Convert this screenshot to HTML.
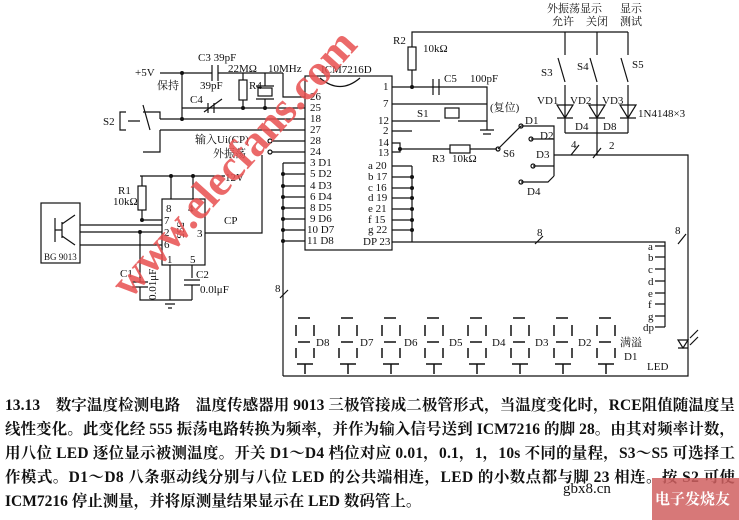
<!DOCTYPE html>
<html><head><meta charset="utf-8"><style>
html,body{margin:0;padding:0;background:#fff;}
svg{display:block;}
text{font-family:"Liberation Serif","Noto Serif CJK SC",serif;fill:#111;}
.s{font-size:11px;}
.p{font-size:15.5px;font-weight:bold;}
</style></head><body>
<svg width="739" height="520" viewBox="0 0 739 520" xmlns="http://www.w3.org/2000/svg">
<g stroke="#111" stroke-width="1.2" fill="none">
<rect x="305" y="76" width="87" height="174"/>
<path d="M320,78 Q340,95 360,78"/>
<path d="M283,73 V97 H305 M182,108 H305 M160,119 H305 M160,130 H305 M272,141 H305 M272,152 H305"/>
<path d="M283,163 V376 M283,163 H305 M283,174 H305 M283,186 H305 M283,197 H305 M283,208 H305 M283,219 H305 M283,230 H305 M283,241 H305"/>
<path d="M160,73 H212 M218,73 H283 M212,65 V81 M218,65 V81 M182,73 V119 M243,73 V80 M243,100 V108 M265,73 V86 M265,99 V108"/>
<rect x="239" y="80" width="8" height="20"/>
<rect x="258" y="88" width="14" height="8"/>
<path d="M256,86 H274 M256,99 H274"/>
<path d="M208,103 V113 M214,103 V113 M204,112 L222,99"/>
<path d="M126,112 H120 V130 H126 M128,121 H140 M143,105 L150,130 M160,119 V112 H143 M160,130 V152 H143"/>
<circle cx="270" cy="141" r="2"/><circle cx="270" cy="152" r="2"/>
<path d="M262,155 V233 H205"/>
<rect x="162" y="199" width="43" height="66"/>
<path d="M140,176 H225 M171,176 V199 M193,176 V199 M142,176 V186 M142,210 V220 H162 M80,225 H162 M80,232 H162 M80,245 H162 M140,232 V282 M170,265 V300 M192,265 V278"/>
<rect x="138" y="186" width="8" height="24"/>
<rect x="41" y="203" width="39" height="60"/>
<path d="M55,218 V242 M55,230 H62 M62,222 V238 M62,224 L75,215 M62,236 L75,245"/>
<path d="M132,282 H148 M132,287 H148 M140,287 V300 H192 M184,280 H200 M184,285 H200 M192,285 V300 M162,300 H178 M165,304 H175 M168,308 H172"/>
<path d="M392,87 H487 V130 M392,104 H487 M392,121 H440 M458,121 H487 M392,131 H412 M392,143 H400 V152 H392 M400,149 H450 M470,149 H497"/>
<path d="M433,79 V95 M439,79 V95 M480,130 H494 M483,134 H491"/>
<rect x="445" y="108" width="14" height="10"/>
<rect x="450" y="145" width="20" height="8"/>
<path d="M412,166 V242 M392,166 H412 M392,177 H412 M392,188 H412 M392,198 H412 M392,209 H412 M392,220 H412 M392,230 H412 M392,242 H665 V327"/>
<path d="M498,149 L521,126 M521,126 H554 V176 M531,139 H554 M533,166 H554 M521,182 H548 L554,176 M554,155 H688 V376 H283"/>
<circle cx="521" cy="126" r="2"/><circle cx="531" cy="139" r="2"/><circle cx="533" cy="166" r="2"/><circle cx="521" cy="182" r="2"/><circle cx="498" cy="149" r="2"/>
<path d="M412,87 V70 M412,47 V32 H628 M565,32 V55 M565,85 V133 M597,32 V55 M597,85 V155 M628,32 V55 M628,85 V133 M558,58 L565,82 M590,58 L597,82 M621,58 L628,82 M565,133 H628"/>
<rect x="408" y="47" width="8" height="23"/>
<path d="M557,105 H573 L565,118 Z M589,105 H605 L597,118 Z M620,105 H636 L628,118 Z M557,118 H573 M589,118 H605 M620,118 H636"/>
<path d="M571,155 L579,145 M593,158 L601,148 M535,244 L543,236 M678,244 L686,234 M280,298 L288,290"/>
<path d="M665,246 H655 M665,257 H655 M665,269 H655 M665,281 H655 M665,293 H655 M665,304 H655 M665,316 H655 M665,327 H655"/>
<path d="M678,340 H688 L683,348 Z M678,348 H688 M690,338 L698,330 M690,345 L698,337"/>
</g>
<g fill="#111">
<circle cx="182" cy="73" r="2"/><circle cx="182" cy="119" r="2"/><circle cx="243" cy="108" r="2"/><circle cx="265" cy="108" r="2"/>
<circle cx="171" cy="176" r="2"/><circle cx="193" cy="176" r="2"/><circle cx="142" cy="220" r="2"/><circle cx="140" cy="232" r="2"/>
<circle cx="412" cy="87" r="2"/><circle cx="400" cy="149" r="2"/>
<circle cx="412" cy="177" r="2"/><circle cx="412" cy="188" r="2"/><circle cx="412" cy="198" r="2"/><circle cx="412" cy="209" r="2"/><circle cx="412" cy="220" r="2"/><circle cx="412" cy="230" r="2"/>
<circle cx="283" cy="174" r="2"/><circle cx="283" cy="186" r="2"/><circle cx="283" cy="197" r="2"/><circle cx="283" cy="208" r="2"/><circle cx="283" cy="219" r="2"/><circle cx="283" cy="230" r="2"/><circle cx="283" cy="241" r="2"/>
</g>
<g stroke="#111" stroke-width="1.5" fill="none">
<path id="dg" d="M298,318 H310 M296,325 V336 M314,325 V336 M298,342 H310 M296,348 V358 M314,348 V358 M297,364 H313 M305,364 V374"/>
<use href="#dg" x="43"/><use href="#dg" x="86"/><use href="#dg" x="129"/><use href="#dg" x="172"/><use href="#dg" x="215"/><use href="#dg" x="258"/><use href="#dg" x="301"/>
</g>
<g class="s">
<text x="316" y="346">D8</text><text x="360" y="346">D7</text><text x="404" y="346">D6</text><text x="449" y="346">D5</text><text x="492" y="346">D4</text><text x="535" y="346">D3</text><text x="578" y="346">D2</text><text x="620" y="346">满溢</text><text x="624" y="360">D1</text><text x="647" y="370">LED</text>
<text x="648" y="250">a</text><text x="648" y="261">b</text><text x="648" y="273">c</text><text x="648" y="285">d</text><text x="648" y="297">e</text><text x="648" y="308">f</text><text x="648" y="320">g</text><text x="643" y="331">dp</text>
<text x="135" y="76">+5V</text><text x="157" y="89">保持</text><text x="198" y="61">C3 39pF</text><text x="228" y="72">22MΩ</text><text x="200" y="89">39pF</text><text x="249" y="89">R4</text><text x="190" y="103">C4</text>
<text x="268" y="72">10MHz</text><text x="321" y="73">ICM7216D</text><text x="103" y="125">S2</text>
<text x="195" y="143">输入Ui(CP)</text><text x="213" y="157">外振荡</text><text x="225" y="181">12V</text><text x="224" y="224">CP</text>
<text x="118" y="194">R1</text><text x="113" y="205">10kΩ</text><text x="44" y="260" font-size="9">BG 9013</text><text x="120" y="277">C1</text><text x="196" y="278">C2</text><text x="200" y="293">0.0lμF</text>
<text x="166" y="212">8</text><text x="188" y="212">4</text><text x="164" y="224">7</text><text x="164" y="236">2</text><text x="164" y="248">6</text><text x="197" y="237">3</text><text x="167" y="263">1</text><text x="190" y="263">5</text>
<text x="310" y="100">26</text><text x="310" y="111">25</text><text x="310" y="122">18</text><text x="310" y="133">27</text><text x="310" y="144">28</text><text x="310" y="155">24</text>
<text x="310" y="166">3 D1</text><text x="310" y="177">5 D2</text><text x="310" y="189">4 D3</text><text x="310" y="200">6 D4</text><text x="310" y="211">8 D5</text><text x="310" y="222">9 D6</text><text x="307" y="233">10 D7</text><text x="307" y="244">11 D8</text>
<text x="383" y="90">1</text><text x="383" y="107">7</text><text x="378" y="124">12</text><text x="383" y="134">2</text><text x="378" y="146">14</text><text x="378" y="156">13</text>
<text x="368" y="169">a 20</text><text x="368" y="180">b 17</text><text x="368" y="191">c 16</text><text x="368" y="201">d 19</text><text x="368" y="212">e 21</text><text x="368" y="223">f 15</text><text x="368" y="233">g 22</text><text x="363" y="245">DP 23</text>
<text x="393" y="44">R2</text><text x="423" y="52">10kΩ</text><text x="444" y="82">C5</text><text x="470" y="82">100pF</text><text x="490" y="111">(复位)</text><text x="417" y="117">S1</text>
<text x="432" y="162">R3</text><text x="452" y="162">10kΩ</text><text x="503" y="157">S6</text><text x="525" y="124">D1</text><text x="540" y="139">D2</text><text x="536" y="158">D3</text><text x="527" y="195">D4</text>
<text x="547" y="12">外振荡显示</text><text x="620" y="12">显示</text><text x="552" y="25">允许</text><text x="586" y="25">关闭</text><text x="620" y="25">测试</text>
<text x="541" y="76">S3</text><text x="577" y="70">S4</text><text x="632" y="68">S5</text>
<text x="537" y="104">VD1</text><text x="570" y="104">VD2</text><text x="602" y="104">VD3</text><text x="638" y="117">1N4148×3</text>
<text x="575" y="130">D4</text><text x="603" y="130">D8</text><text x="571" y="148">4</text><text x="609" y="149">2</text><text x="537" y="236">8</text><text x="675" y="234">8</text><text x="275" y="292">8</text>
</g>
<text class="s" transform="translate(177,222) rotate(90)">555</text>
<text class="s" transform="translate(156,300) rotate(-90)">0.01μF</text>
<text x="0" y="0" font-family="Liberation Sans,sans-serif" font-size="44" font-weight="bold" style="fill:#e85050;opacity:0.85" transform="translate(130,300) rotate(-48)">www.elecfans.com</text>
<g class="p">
<text x="5" y="410" textLength="730">13.13　数字温度检测电路　温度传感器用 9013 三极管接成二极管形式，当温度变化时，RCE阻值随温度呈</text>
<text x="5" y="434" textLength="730">线性变化。此变化经 555 振荡电路转换为频率，并作为输入信号送到 ICM7216 的脚 28。由其对频率计数，</text>
<text x="5" y="458" textLength="730">用八位 LED 逐位显示被测温度。开关 D1～D4 档位对应 0.01，0.1，1，10s 不同的量程，S3～S5 可选择工</text>
<text x="5" y="482" textLength="730">作模式。D1～D8 八条驱动线分别与八位 LED 的公共端相连，LED 的小数点都与脚 23 相连。按 S2 可使</text>
<text x="5" y="506">ICM7216 停止测量，并将原测量结果显示在 LED 数码管上。</text>
</g>
<text x="563" y="493" font-family="Liberation Sans,sans-serif" font-size="15">gbx8.cn</text>
<rect x="652" y="478" width="87" height="42" fill="#d06060" opacity="0.85"/>
<text x="655" y="504" font-size="15" style="fill:#fff;font-weight:bold">电子发烧友</text>
</svg>
</body></html>
